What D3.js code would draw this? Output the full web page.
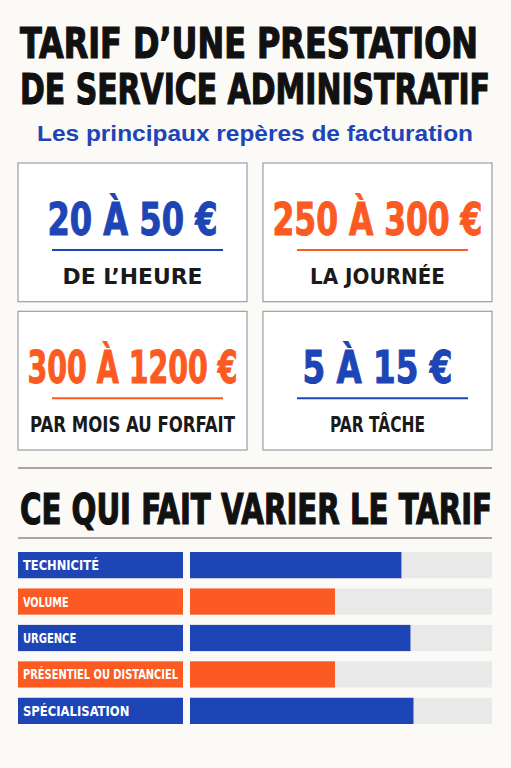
<!DOCTYPE html>
<html><head><meta charset="utf-8">
<script src="https://cdn.jsdelivr.net/npm/d3@7"></script>
<style>body{margin:0;background:#fbfaf7}svg{display:block}</style>
</head><body>
<script>
var BLUE = "#1d45b5", ORANGE = "#fb5a22";
var titleLines = ["TARIF D\u2019UNE PRESTATION", "DE SERVICE ADMINISTRATIF"];
var subtitle = "Les principaux rep\u00e8res de facturation";
var cardValues = ["20 \u00c0 50 \u20ac", "250 \u00c0 300 \u20ac", "300 \u00c0 1200 \u20ac", "5 \u00c0 15 \u20ac"];
var cardLabels = ["DE L\u2019HEURE", "LA JOURN\u00c9E", "PAR MOIS AU FORFAIT", "PAR T\u00c2CHE"];
var cardColors = [BLUE, ORANGE, ORANGE, BLUE];
var factorTitle = "CE QUI FAIT VARIER LE TARIF";
var factors = ["TECHNICIT\u00c9", "VOLUME", "URGENCE", "PR\u00c9SENTIEL OU DISTANCIEL", "SP\u00c9CIALISATION"];
var factorValues = [70, 48, 73, 48, 74];
var factorColors = [BLUE, ORANGE, BLUE, ORANGE, BLUE];

var svg = d3.select("body").append("svg").attr("width", 511).attr("height", 768);
var heavy = "'Liberation Sans Narrow','DejaVu Sans Condensed','Liberation Sans',sans-serif";

// title
svg.selectAll(".title").data(titleLines).enter().append("text")
  .attr("x", 20).attr("y", function(d,i){return 58 + i*46;})
  .attr("textLength", function(d,i){return i ? 470 : 458;}).attr("lengthAdjust", "spacingAndGlyphs")
  .style("font-family", heavy).style("font-weight", 900).style("font-size", "42px").attr("fill", "#111")
  .attr("stroke", "#111").attr("stroke-width", 1.2)
  .text(function(d){return d;});

svg.append("text").attr("x", 255).attr("y", 141).attr("text-anchor", "middle")
  .attr("textLength", 436).attr("lengthAdjust", "spacingAndGlyphs")
  .style("font-family", "'Liberation Sans',sans-serif").style("font-weight", 700).style("font-size", "22px")
  .attr("fill", BLUE).text(subtitle);

// cards
var cx = d3.scaleBand().domain([0,1]).range([18, 492]).paddingInner(0.065);
var cy = d3.scaleBand().domain([0,1]).range([163, 450]).paddingInner(0.065);
var cards = svg.selectAll(".card").data(cardValues).enter().append("g")
  .attr("transform", function(d,i){return "translate(" + cx(i%2) + "," + cy(Math.floor(i/2)) + ")";});
var bw = cx.bandwidth(), bh = cy.bandwidth();
cards.append("rect").attr("width", bw).attr("height", bh).attr("fill", "#fff")
  .attr("stroke", "#9a9ea6").attr("stroke-width", 1.2);
cards.append("text").attr("x", bw/2).attr("y", 72).attr("text-anchor", "middle")
  .attr("textLength", function(d,i){return [170,210,210,150][i];}).attr("lengthAdjust", "spacingAndGlyphs")
  .style("font-family", heavy).style("font-weight", 900).style("font-size", "44px")
  .attr("fill", function(d,i){return cardColors[i];}).attr("stroke", function(d,i){return cardColors[i];}).attr("stroke-width", 1)
  .text(function(d){return d;});
cards.append("line").attr("x1", 34).attr("x2", bw-24).attr("y1", 87).attr("y2", 87)
  .attr("stroke", function(d,i){return cardColors[i];}).attr("stroke-width", 2);
cards.append("text").attr("x", bw/2).attr("y", 121).attr("text-anchor", "middle")
  .style("font-family", heavy).style("font-weight", 700).style("font-size", "22px").attr("fill", "#1a1a1a")
  .attr("textLength", function(d,i){return [140,135,205,95][i];}).attr("lengthAdjust", "spacingAndGlyphs")
  .text(function(d,i){return cardLabels[i];});

// factors
svg.append("line").attr("x1", 18).attr("x2", 492).attr("y1", 468).attr("y2", 468).attr("stroke", "#555").attr("stroke-width", 1);
svg.append("text").attr("x", 20).attr("y", 524).attr("textLength", 472).attr("lengthAdjust", "spacingAndGlyphs")
  .style("font-family", heavy).style("font-weight", 900).style("font-size", "42px").attr("fill", "#111")
  .attr("stroke", "#111").attr("stroke-width", 1.2).text(factorTitle);
svg.append("line").attr("x1", 18).attr("x2", 492).attr("y1", 538).attr("y2", 538).attr("stroke", "#555").attr("stroke-width", 1);

var y = d3.scaleBand().domain(factors).range([552, 724]).paddingInner(0.28);
var x = d3.scaleLinear().domain([0, 100]).range([190, 492]);
var rows = svg.selectAll(".row").data(factors).enter().append("g")
  .attr("transform", function(d){return "translate(0," + y(d) + ")";});
rows.append("rect").attr("x", 18).attr("width", 165).attr("height", y.bandwidth())
  .attr("fill", function(d,i){return factorColors[i];});
rows.append("text").attr("x", 23).attr("y", y.bandwidth()/2 + 5)
  .style("font-family", heavy).style("font-weight", 700).style("font-size", "14px").attr("fill", "#fff")
  .attr("textLength", function(d){return Math.min(155, d.length*7.6);}).attr("lengthAdjust", "spacingAndGlyphs")
  .text(function(d){return d;});
rows.append("rect").attr("x", x(0)).attr("width", x(100)-x(0)).attr("height", y.bandwidth()).attr("fill", "#e9e9ea");
rows.append("rect").attr("x", x(0)).attr("width", function(d,i){return x(factorValues[i])-x(0);}).attr("height", y.bandwidth())
  .attr("fill", function(d,i){return factorColors[i];});
</script>
</body></html>
